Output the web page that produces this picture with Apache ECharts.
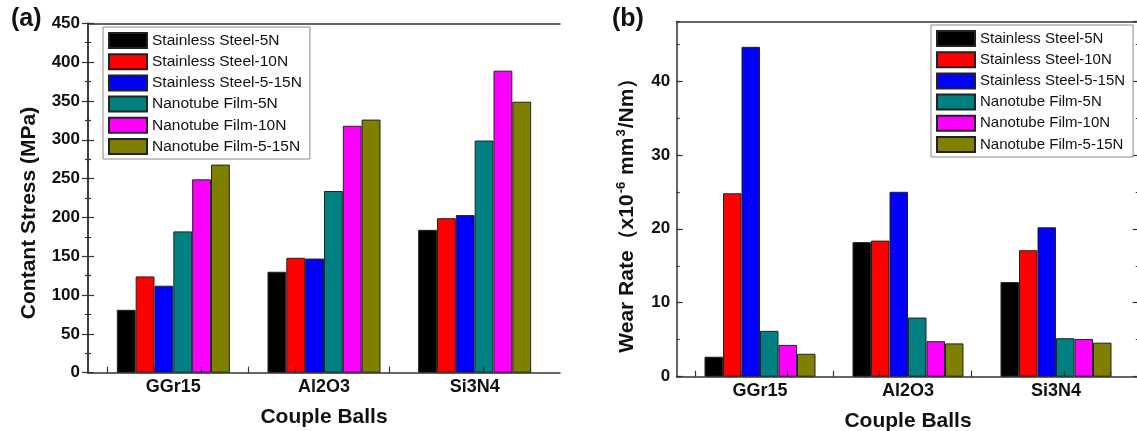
<!DOCTYPE html>
<html>
<head>
<meta charset="utf-8">
<script src="https://cdn.jsdelivr.net/npm/echarts@6/dist/echarts.min.js"></script>
<style>
html,body{margin:0;padding:0;background:#fff;}
#c{width:1137px;height:431px;}
</style>
</head>
<body>
<div id="c"></div>
<script>
// ---- data ----
const categories = ['GGr15', 'Al2O3', 'Si3N4'];
const seriesNames = ['Stainless Steel-5N', 'Stainless Steel-10N', 'Stainless Steel-5-15N',
  'Nanotube Film-5N', 'Nanotube Film-10N', 'Nanotube Film-5-15N'];
const seriesColors = ['#000000', '#ff0000', '#0000ff', '#008080', '#ff00ff', '#808000'];

// (a) Contant Stress (MPa)
const stressSS5N = [81, 130, 184];
const stressSS10N = [124, 148, 199];
const stressSS515N = [112, 147, 203];
const stressNF5N = [182, 234, 299];
const stressNF10N = [249, 318, 389];
const stressNF515N = [268, 326, 349];

// (b) Wear Rate (x10^-6 mm^3/Nm)
const wearSS5N = [2.7, 18.2, 12.8];
const wearSS10N = [24.8, 18.4, 17.1];
const wearSS515N = [44.6, 25.0, 20.2];
const wearNF5N = [6.2, 8.0, 5.2];
const wearNF10N = [4.3, 4.8, 5.1];
const wearNF515N = [3.1, 4.5, 4.6];

const stressSeries = [stressSS5N, stressSS10N, stressSS515N, stressNF5N, stressNF10N, stressNF515N];
const wearSeries = [wearSS5N, wearSS10N, wearSS515N, wearNF5N, wearNF10N, wearNF515N];

const stressAxis = {min: 0, max: 450, interval: 50};
const wearAxis = {min: 0, max: 48, interval: 10, minorInterval: 5};

// ---- chart ----
const FONT = "Arial, 'Liberation Sans', sans-serif";
const AX = '#333';
const chart = echarts.init(document.getElementById('c'), null, {renderer: 'canvas'});

const tickCats = ['', '', '', '', '', '', '', '', ''];

function frameX(grid, pos) {
  return {type: 'value', gridIndex: grid, position: pos, min: 0, max: 1,
    axisLine: {show: true, onZero: false, lineStyle: {color: AX, width: 1.5}},
    axisTick: {show: false}, axisLabel: {show: false}, splitLine: {show: false}};
}
function hiddenY(grid, min, max) {
  return {type: 'value', gridIndex: grid, min: min, max: max, show: false,
    splitLine: {show: false}};
}
function tickX(grid) {
  return {type: 'category', gridIndex: grid, data: tickCats, boundaryGap: true, z: 10,
    axisLine: {show: false}, axisLabel: {show: false},
    axisTick: {show: true, inside: true, length: 6, lineStyle: {color: AX, width: 1.2}},
    splitLine: {show: false}};
}
function barX(grid, gap) {
  return {type: 'category', gridIndex: grid, data: categories, boundaryGap: true,
    axisLine: {show: false}, axisTick: {show: false},
    axisLabel: {show: true, margin: 5, color: '#111', fontSize: 18, fontWeight: 'bold', fontFamily: FONT},
    name: 'Couple Balls', nameLocation: 'middle', nameGap: gap,
    nameTextStyle: {color: '#111', fontSize: 21, fontWeight: 'bold', fontFamily: FONT},
    splitLine: {show: false}};
}

const series = [];
seriesNames.forEach((n, i) => {
  series.push({type: 'bar', name: n, xAxisIndex: 2, yAxisIndex: 2, data: stressSeries[i],
    barGap: '0%', barCategoryGap: '25%',
    itemStyle: {color: seriesColors[i], borderColor: '#222', borderWidth: 1}});
});
seriesNames.forEach((n, i) => {
  series.push({type: 'bar', name: n, xAxisIndex: 6, yAxisIndex: 8, data: wearSeries[i],
    barGap: '0%', barCategoryGap: '25%',
    itemStyle: {color: seriesColors[i], borderColor: '#222', borderWidth: 1}});
});

function legend(left, top, fs) {
  return {show: true, orient: 'vertical', left: left, top: top, data: seriesNames,
    icon: 'rect', itemWidth: 38, itemHeight: 15, itemGap: 4.2, padding: [5, 8, 4, 5],
    borderColor: '#888', borderWidth: 1, backgroundColor: '#fff', selectedMode: false,
    textStyle: {color: '#111', fontSize: fs, fontFamily: FONT}};
}

const option = {
  animation: false,
  backgroundColor: '#fff',
  textStyle: {fontFamily: FONT},
  title: [
    {text: '(a)', left: 11, top: 7, padding: 0, textStyle: {fontSize: 25, fontWeight: 'bold', color: '#111', fontFamily: FONT}},
    {text: '(b)', left: 612, top: 7, padding: 0, textStyle: {fontSize: 25, fontWeight: 'bold', color: '#111', fontFamily: FONT}}
  ],
  legend: [legend(103, 27, 15.5), legend(931, 25, 15)],
  grid: [
    {left: 88, top: 23.3, width: 472, height: 349.4, containLabel: false, outerBoundsMode: 'none'},
    {left: 98, top: 23.3, width: 452, height: 349.4, containLabel: false, outerBoundsMode: 'none'},
    {left: 107, top: 23.3, width: 423, height: 349.4, containLabel: false, outerBoundsMode: 'none'},
    {left: 676.7, top: 21.7, width: 462, height: 355, containLabel: false, outerBoundsMode: 'none'},
    {left: 686, top: 21.7, width: 444, height: 355, containLabel: false, outerBoundsMode: 'none'},
    {left: 695, top: 21.7, width: 415, height: 355, containLabel: false, outerBoundsMode: 'none'}
  ],
  xAxis: [
    frameX(0, 'bottom'), frameX(0, 'top'), barX(1, 34), tickX(2),
    frameX(3, 'bottom'), frameX(3, 'top'), barX(4, 34), tickX(5)
  ],
  yAxis: [
    {type: 'value', gridIndex: 0, position: 'left', min: stressAxis.min, max: stressAxis.max, interval: stressAxis.interval,
      axisLine: {show: true, lineStyle: {color: AX, width: 1.5}},
      axisTick: {show: true, inside: true, length: 6, lineStyle: {color: AX, width: 1.2}},
      minorTick: {show: true, splitNumber: 2, length: 3, lineStyle: {color: AX, width: 1.2}},
      axisLabel: {margin: 8, color: '#111', fontSize: 17, fontWeight: 'bold', fontFamily: FONT},
      splitLine: {show: false},
      name: 'Contant Stress (MPa)', nameLocation: 'middle', nameGap: 48,
      nameTextStyle: {color: '#111', fontSize: 21, fontWeight: 'bold', fontFamily: FONT, padding: [0, 30, 0, 0]}},
    {type: 'value', gridIndex: 0, position: 'right', min: stressAxis.min, max: stressAxis.max, interval: stressAxis.interval,
      axisLine: {show: true, lineStyle: {color: AX, width: 1.5}},
      axisTick: {show: true, inside: true, length: 6, lineStyle: {color: AX, width: 1.2}},
      minorTick: {show: true, splitNumber: 2, length: 3, lineStyle: {color: AX, width: 1.2}},
      axisLabel: {show: false}, splitLine: {show: false}},
    hiddenY(1, stressAxis.min, stressAxis.max),
    hiddenY(2, stressAxis.min, stressAxis.max),
    {type: 'value', gridIndex: 3, position: 'left', min: wearAxis.min, max: wearAxis.max, interval: wearAxis.interval,
      axisLine: {show: true, lineStyle: {color: AX, width: 1.5}},
      axisTick: {show: true, inside: true, length: 6, lineStyle: {color: AX, width: 1.2}},
      axisLabel: {margin: 6.5, color: '#111', fontSize: 17, fontWeight: 'bold', fontFamily: FONT, showMaxLabel: false},
      splitLine: {show: false},
      name: '{n|Wear Rate（x10}{s|-6}{n| mm}{s|3}{n|/Nm）}', nameLocation: 'middle', nameGap: 39,
      nameTextStyle: {color: '#111', fontSize: 21, fontWeight: 'bold', fontFamily: FONT, padding: [0, 22, 0, 0],
        rich: {
          n: {fontSize: 21, fontWeight: 'bold', color: '#111', fontFamily: FONT, verticalAlign: 'bottom'},
          s: {fontSize: 13, fontWeight: 'bold', color: '#111', fontFamily: FONT, verticalAlign: 'bottom', padding: [0, 1, 10, 1]}
        }}},
    {type: 'value', gridIndex: 3, position: 'left', min: wearAxis.min, max: wearAxis.max, interval: wearAxis.minorInterval,
      axisLine: {show: false},
      axisTick: {show: true, inside: true, length: 3, lineStyle: {color: AX, width: 1.2}},
      axisLabel: {show: false}, splitLine: {show: false}},
    {type: 'value', gridIndex: 3, position: 'right', min: wearAxis.min, max: wearAxis.max, interval: wearAxis.interval,
      axisLine: {show: true, lineStyle: {color: AX, width: 1.5}},
      axisTick: {show: true, inside: true, length: 6, lineStyle: {color: AX, width: 1.2}},
      axisLabel: {show: false}, splitLine: {show: false}},
    {type: 'value', gridIndex: 3, position: 'right', min: wearAxis.min, max: wearAxis.max, interval: wearAxis.minorInterval,
      axisLine: {show: false},
      axisTick: {show: true, inside: true, length: 3, lineStyle: {color: AX, width: 1.2}},
      axisLabel: {show: false}, splitLine: {show: false}},
    hiddenY(4, wearAxis.min, wearAxis.max),
    hiddenY(5, wearAxis.min, wearAxis.max)
  ],
  series: series
};
chart.setOption(option);
</script>
</body>
</html>
